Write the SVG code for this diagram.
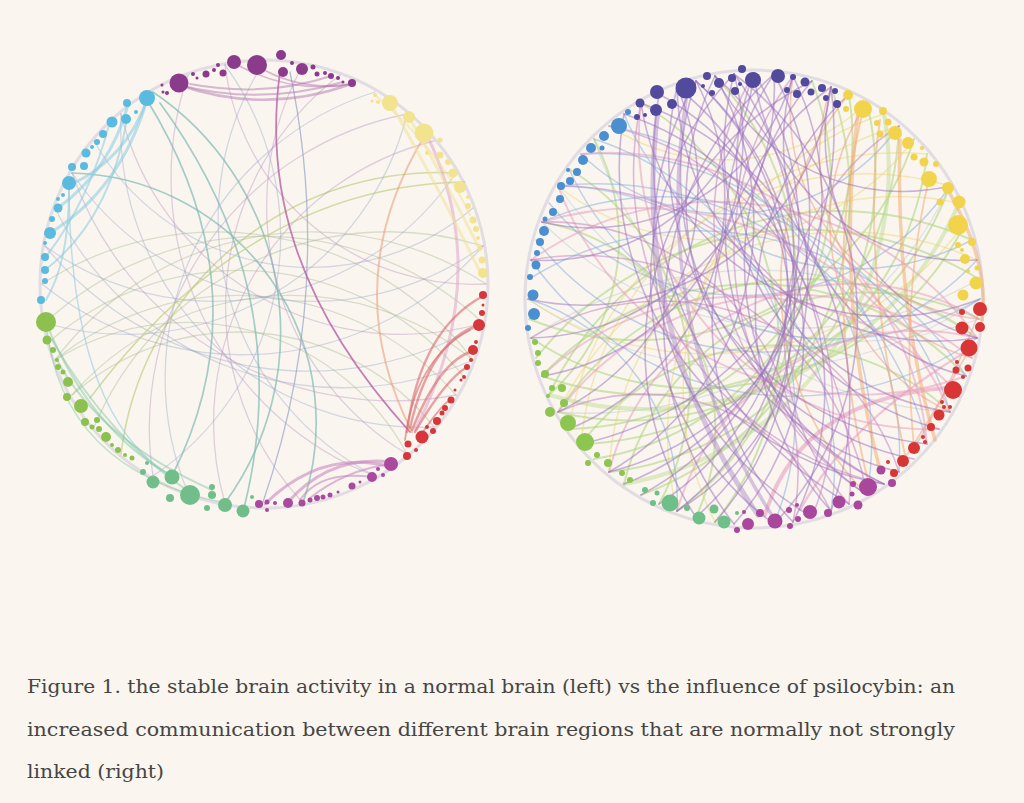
<svg xmlns="http://www.w3.org/2000/svg" width="1024" height="803" viewBox="0 0 1024 803">
<style>
.e{fill:none;stroke-linecap:round}
.lq{stroke:#95a3c6;stroke-opacity:.38;stroke-width:1.3}
.lp{stroke:#b48bba;stroke-opacity:.38;stroke-width:1.3}
.lg{stroke:#a3b48e;stroke-opacity:.38;stroke-width:1.3}
.lo{stroke:#c3cf85;stroke-opacity:.7;stroke-width:1.6}
.lt{stroke:#7fbab3;stroke-opacity:.7;stroke-width:1.7}
.lb{stroke:#8ccbe0;stroke-opacity:.55;stroke-width:3}
.lr{stroke:#d8696a;stroke-opacity:.6;stroke-width:2.4}
.lm{stroke:#c98bc0;stroke-opacity:.6;stroke-width:3}
.lu{stroke:#b377b0;stroke-opacity:.5;stroke-width:2.5}
.ly{stroke:#f0e29a;stroke-opacity:.55;stroke-width:3}
.lgb{stroke:#7fc3a0;stroke-opacity:.45;stroke-width:2}
.rp{stroke:#9a6dbd;stroke-opacity:.5;stroke-width:1.6}
.rpt{stroke:#b08ecb;stroke-opacity:.5;stroke-width:5}
.rb{stroke:#8fb3de;stroke-opacity:.55;stroke-width:1.5}
.rg{stroke:#b3d585;stroke-opacity:.6;stroke-width:2}
.rgt{stroke:#bddb94;stroke-opacity:.5;stroke-width:4}
.ro{stroke:#f0ad75;stroke-opacity:.55;stroke-width:3.5}
.ry{stroke:#eed36a;stroke-opacity:.45;stroke-width:1.5}
.rk{stroke:#e8a0bf;stroke-opacity:.55;stroke-width:2}
.rkt{stroke:#e79ec0;stroke-opacity:.6;stroke-width:4}
.rs{stroke:#ec9a8e;stroke-opacity:.5;stroke-width:1.6}
.rm{stroke:#c686c2;stroke-opacity:.55;stroke-width:1.6}
.rq{stroke:#a9b9cf;stroke-opacity:.35;stroke-width:1.3}
.ring{fill:none;stroke:#c9c3d6;stroke-opacity:.5;stroke-width:3}
.Lpu{fill:#8b3a8c}.Lbl{fill:#5bbadf}.Lgr{fill:#8dc14f}.Lte{fill:#72be8a}.Lma{fill:#a94a9e}.Lre{fill:#d6373a}.Lye{fill:#f2e38e}
.Rdb{fill:#514a9d}.Rbl{fill:#4a8fd0}.Rgr{fill:#8cc54f}.Rte{fill:#6fbf88}.Rma{fill:#a9479c}.Rre{fill:#d83535}.Rye{fill:#f1d44c}
.cap{font-family:"DejaVu Serif Condensed","DejaVu Serif","Liberation Serif",serif;font-size:19px;fill:#454545}
</style>
<rect x="0" y="0" width="1024" height="803" fill="#faf6ef"/>

<!-- LEFT NETWORK -->
<g id="left-connectors" class="e">
<circle class="ring" cx="264" cy="284" r="224"/>
<path class="lq" d="M55 208 A320 320 0 0 0 473 360"/>
<path class="lp" d="M72 173 A340 340 0 0 0 456 395"/>
<path class="lq" d="M121 114 A300 300 0 0 0 434 427"/>
<path class="lp" d="M188 75 A320 320 0 0 0 375 476"/>
<path class="lq" d="M45 246 A340 340 0 0 0 483 323"/>
<path class="lg" d="M483 323 A320 320 0 0 0 45 323"/>
<path class="lg" d="M473 360 A290 290 0 0 0 72 395"/>
<path class="lg" d="M483 246 A320 320 0 0 0 94 427"/>
<path class="lg" d="M456 395 A290 290 0 0 0 55 360"/>
<path class="lo" d="M456 173 A320 320 0 0 0 121 454"/>
<path class="lq" d="M375 92 A300 300 0 0 0 188 493"/>
<path class="lp" d="M340 75 A290 290 0 0 0 303 503"/>
<path class="lt" d="M225 503 A290 290 0 0 0 153 92"/>
<path class="lq" d="M94 141 A250 250 0 0 0 473 208"/>
<path class="lp" d="M225 65 A250 250 0 0 0 486 284"/>
<path class="lp" d="M303 65 A290 290 0 0 0 407 454"/>
<path class="lq" d="M42 284 A320 320 0 0 0 483 246"/>
<path class="lg" d="M486 284 A320 320 0 0 0 55 360"/>
<path class="lq" d="M45 246 A290 290 0 0 0 456 173"/>
<path class="lt" d="M303 503 A250 250 0 0 0 72 173"/>
<path class="lg" d="M434 427 A250 250 0 0 0 72 395"/>
<path class="lq" d="M153 476 A290 290 0 0 0 225 65"/>
<path class="lp" d="M407 114 A320 320 0 0 0 153 476"/>
<path class="lg" d="M465 378 A290 290 0 0 0 50 341"/>
<path class="lq" d="M45 323 A290 290 0 0 0 407 114"/>
<path class="lp" d="M121 114 A290 290 0 0 0 483 323"/>
<path class="lq" d="M264 62 A290 290 0 0 0 375 476"/>
<path class="lg" d="M407 454 A250 250 0 0 0 55 360"/>
<path class="lq" d="M72 173 A290 290 0 0 0 483 246"/>
<path class="lp" d="M434 141 A290 290 0 0 0 225 503"/>
<path class="lg" d="M473 360 A320 320 0 0 0 42 284"/>
<path class="lo" d="M465 182 Q250 185 90 398"/>
<path class="lt" d="M147 100 Q265 292 172 476"/>
<path class="lt" d="M160 103 Q298 292 244 508"/>
<path class="lq" style="stroke-opacity:.7" d="M290 72 Q336 292 262 505"/>
<path class="lp" style="stroke:#b0589f;stroke-opacity:.75;stroke-width:1.8" d="M280 72 C265 180 290 300 410 432"/>
<path class="lr" style="stroke:#eba27f;stroke-width:2" d="M425 135 Q336 282 412 432"/>
<path class="lm" style="stroke:#e3aacb;stroke-width:3" d="M428 137 Q494 277 415 430"/>
<path class="ly" d="M391 104 Q445 200 482 276"/>
<path class="ly" d="M409 117 Q450 190 480 250"/>
<path class="ly" style="stroke-width:2" d="M375 95 Q440 150 470 215"/>
<path class="lu" d="M179 85 Q265 115 351 84"/>
<path class="lu" style="stroke-width:2" d="M179 85 Q260 106 343 82"/>
<path class="lu" style="stroke-width:2" d="M190 84 Q265 98 331 76"/>
<path class="lu" style="stroke-width:2" d="M257 66 Q300 92 351 84"/>
<path class="lu" style="stroke-width:1.5" d="M234 63 Q290 95 352 84"/>
<path class="lb" d="M147 100 Q125 160 70 185"/>
<path class="lb" d="M128 105 Q110 170 58 208"/>
<path class="lb" d="M147 100 Q120 190 50 233"/>
<path class="lb" style="stroke-width:2" d="M110 121 Q90 200 45 258"/>
<path class="lb" style="stroke-width:2" d="M127 119 Q110 220 45 270"/>
<path class="lb" style="stroke-width:2" d="M69 183 Q70 260 46 300"/>
<path class="lb" style="stroke-width:1.5" d="M69 185 Q70 420 175 478"/>
<path class="lgb" d="M47 325 Q90 430 172 476"/>
<path class="lgb" d="M52 340 Q110 440 191 493"/>
<path class="lgb" d="M57 360 Q100 440 212 490"/>
<path class="lgb" style="stroke-width:1.5" d="M46 322 Q60 470 225 503"/>
<path class="lr" d="M407 432 Q420 330 483 296"/>
<path class="lr" d="M410 428 Q430 340 479 325"/>
<path class="lr" d="M412 430 Q440 360 473 351"/>
<path class="lr" d="M415 432 Q445 380 467 367"/>
<path class="lr" style="stroke-width:1.8" d="M420 436 Q445 400 451 400"/>
<path class="lr" style="stroke-width:1.8" d="M405 440 Q415 360 470 330"/>
<path class="lm" d="M391 462 Q330 455 288 502"/>
<path class="lm" d="M388 466 Q320 450 265 504"/>
<path class="lm" style="stroke-width:2" d="M372 477 Q320 470 300 500"/>
<path class="lm" style="stroke-width:2" d="M391 464 Q345 470 310 498"/>
</g>

<g id="left-purple" class="Lpu">
<circle cx="179" cy="83" r="9.5"/><circle cx="257" cy="65" r="10"/><circle cx="234" cy="62" r="7"/><circle cx="281" cy="55" r="5"/><circle cx="283" cy="72" r="5"/><circle cx="302" cy="69" r="6"/><circle cx="352" cy="83" r="4"/>
<circle cx="193" cy="74" r="2"/><circle cx="197" cy="78" r="1.5"/><circle cx="206" cy="74" r="3.5"/><circle cx="214" cy="70" r="2"/><circle cx="223" cy="73" r="3.5"/><circle cx="218" cy="65" r="2"/>
<circle cx="292" cy="63" r="2"/><circle cx="313" cy="67" r="2.5"/><circle cx="317" cy="74" r="2.5"/><circle cx="325" cy="73" r="2"/><circle cx="331" cy="76" r="3"/><circle cx="338" cy="78" r="2"/><circle cx="343" cy="82" r="1.5"/>
<circle cx="162" cy="85" r="1.5"/><circle cx="163" cy="92" r="1.5"/><circle cx="167" cy="93" r="2"/>
</g>
<g id="left-blue" class="Lbl">
<circle cx="147" cy="98" r="8"/><circle cx="127" cy="103" r="4"/><circle cx="112" cy="122" r="5.5"/><circle cx="126" cy="119" r="5"/><circle cx="103" cy="134" r="4"/><circle cx="97" cy="142" r="3"/><circle cx="92" cy="147" r="2"/><circle cx="86" cy="153" r="4.5"/><circle cx="84" cy="166" r="4"/><circle cx="72" cy="167" r="4"/><circle cx="69" cy="183" r="7"/><circle cx="63" cy="195" r="2"/><circle cx="58" cy="199" r="2"/><circle cx="58" cy="208" r="4.5"/><circle cx="52" cy="219" r="3"/><circle cx="50" cy="233" r="6"/><circle cx="45" cy="243" r="2"/><circle cx="45" cy="257" r="4"/><circle cx="45" cy="270" r="4"/><circle cx="45" cy="281" r="3"/><circle cx="41" cy="300" r="4"/><circle cx="136" cy="112" r="2"/>
</g>
<g id="left-green" class="Lgr">
<circle cx="46" cy="322" r="10"/><circle cx="47" cy="340" r="4.5"/><circle cx="53" cy="350" r="3"/><circle cx="57" cy="360" r="2"/><circle cx="58" cy="367" r="3"/><circle cx="63" cy="372" r="2.5"/><circle cx="68" cy="382" r="5"/><circle cx="67" cy="397" r="4"/><circle cx="81" cy="406" r="7"/><circle cx="85" cy="422" r="4"/><circle cx="92" cy="427" r="2.5"/><circle cx="97" cy="420" r="3"/><circle cx="99" cy="429" r="3"/><circle cx="106" cy="437" r="5"/><circle cx="112" cy="445" r="2"/><circle cx="118" cy="450" r="3"/><circle cx="125" cy="455" r="2"/><circle cx="132" cy="458" r="2.5"/>
</g>
<g id="left-teal" class="Lte">
<circle cx="147" cy="463" r="2"/><circle cx="143" cy="472" r="3"/><circle cx="153" cy="482" r="6.5"/><circle cx="172" cy="477" r="7.5"/><circle cx="190" cy="495" r="10"/><circle cx="170" cy="498" r="4"/><circle cx="212" cy="487" r="3"/><circle cx="212" cy="495" r="4"/><circle cx="207" cy="508" r="3"/><circle cx="225" cy="505" r="7"/><circle cx="243" cy="511" r="6.5"/><circle cx="252" cy="497" r="2"/>
</g>
<g id="left-magenta" class="Lma">
<circle cx="259" cy="504" r="4"/><circle cx="267" cy="502" r="2.5"/><circle cx="275" cy="503" r="2"/><circle cx="267" cy="510" r="2"/><circle cx="288" cy="503" r="5"/><circle cx="302" cy="503" r="3.5"/><circle cx="310" cy="500" r="2.5"/><circle cx="317" cy="498" r="3"/><circle cx="323" cy="497" r="2.5"/><circle cx="330" cy="495" r="2.5"/><circle cx="338" cy="492" r="1.5"/><circle cx="352" cy="486" r="3.5"/><circle cx="360" cy="482" r="1.5"/><circle cx="372" cy="477" r="5"/><circle cx="378" cy="469" r="2"/><circle cx="383" cy="475" r="2"/><circle cx="391" cy="464" r="7"/>
</g>
<g id="left-red" class="Lre">
<circle cx="483" cy="295" r="4"/><circle cx="483" cy="305" r="1.5"/><circle cx="482" cy="313" r="3"/><circle cx="479" cy="325" r="6"/><circle cx="476" cy="342" r="2"/><circle cx="473" cy="350" r="5"/><circle cx="471" cy="360" r="2"/><circle cx="467" cy="367" r="3"/><circle cx="464" cy="377" r="2"/><circle cx="461" cy="380" r="1.5"/><circle cx="455" cy="390" r="1.5"/><circle cx="451" cy="400" r="3.5"/><circle cx="445" cy="408" r="3"/><circle cx="442" cy="413" r="2.5"/><circle cx="437" cy="421" r="4"/><circle cx="433" cy="431" r="3"/><circle cx="422" cy="437" r="6.5"/><circle cx="427" cy="427" r="2"/><circle cx="408" cy="444" r="3.5"/><circle cx="416" cy="450" r="2"/><circle cx="407" cy="456" r="4"/>
</g>
<g id="left-yellow" class="Lye">
<circle cx="390" cy="103" r="8"/><circle cx="409" cy="117" r="6"/><circle cx="424" cy="133" r="9.5"/><circle cx="440" cy="140" r="2.5"/><circle cx="427" cy="153" r="2"/><circle cx="440" cy="155" r="3.5"/><circle cx="448" cy="162" r="3"/><circle cx="453" cy="173" r="4.5"/><circle cx="460" cy="187" r="6"/><circle cx="468" cy="197" r="2"/><circle cx="468" cy="206" r="3"/><circle cx="473" cy="220" r="3.5"/><circle cx="476" cy="229" r="3"/><circle cx="478" cy="238" r="2"/><circle cx="480" cy="248" r="2.5"/><circle cx="482" cy="260" r="3.5"/><circle cx="483" cy="273" r="5"/><circle cx="375" cy="95" r="2"/><circle cx="378" cy="102" r="2"/><circle cx="372" cy="101" r="1.5"/>
</g>

<!-- RIGHT NETWORK -->
<g id="right-connectors" class="e">
<circle class="ring" cx="754" cy="299" r="229"/>
<path class="rq" d="M977 338 A400 400 0 0 0 531 338"/>
<path class="rq" d="M528 299 A400 400 0 0 0 980 299"/>
<path class="rq" d="M542 222 A360 360 0 0 0 979 279"/>
<path class="rq" d="M558 412 A400 400 0 0 0 950 186"/>
<path class="rq" d="M558 186 A360 360 0 0 0 979 319"/>
<path class="rq" d="M594 139 A400 400 0 0 0 950 412"/>
<path class="rg" d="M542 376 A320 320 0 0 0 950 186"/>
<path class="rg" d="M558 412 A300 300 0 0 0 927 154"/>
<path class="rg" d="M581 444 A330 330 0 0 0 899 126"/>
<path class="rg" d="M609 472 A300 300 0 0 0 867 103"/>
<path class="rg" d="M972 240 A320 320 0 0 0 549 395"/>
<path class="rg" d="M979 279 A340 340 0 0 0 536 358"/>
<path class="rg" d="M531 338 A300 300 0 0 0 966 222"/>
<path class="rg" d="M569 429 A290 290 0 0 0 849 94"/>
<path class="rg" d="M594 459 A280 280 0 0 0 812 81"/>
<path class="rg" d="M641 495 A320 320 0 0 0 831 87"/>
<path class="rg" d="M677 511 A290 290 0 0 0 715 76"/>
<path class="rg" d="M715 522 A280 280 0 0 0 641 103"/>
<path class="rg" d="M979 319 A250 250 0 0 0 624 484"/>
<path class="rg" d="M966 376 A290 290 0 0 0 542 376"/>
<path class="rg" d="M977 338 A290 290 0 0 0 558 412"/>
<path class="rg" d="M950 412 A250 250 0 0 0 581 444"/>
<path class="rg" d="M529 319 A290 290 0 0 0 914 139"/>
<path class="rg" d="M549 395 A210 210 0 0 0 594 139"/>
<path class="rg" d="M659 504 A250 250 0 0 0 569 169"/>
<path class="rg" d="M696 517 A210 210 0 0 0 542 222"/>
<path class="rgt" d="M549 395 A340 340 0 0 0 959 203"/>
<path class="rgt" d="M624 484 A320 320 0 0 0 884 114"/>
<path class="ry" d="M899 126 A320 320 0 0 0 677 511"/>
<path class="ry" d="M927 154 A320 320 0 0 0 581 444"/>
<path class="ry" d="M950 186 A300 300 0 0 0 569 429"/>
<path class="ry" d="M528 299 A320 320 0 0 0 966 222"/>
<path class="ry" d="M959 203 A290 290 0 0 0 609 472"/>
<path class="ry" d="M977 260 A320 320 0 0 0 558 412"/>
<path class="ry" d="M884 114 A290 290 0 0 0 715 522"/>
<path class="ry" d="M558 186 A250 250 0 0 0 914 139"/>
<path class="ry" d="M609 126 A210 210 0 0 0 867 103"/>
<path class="rb" d="M531 260 A320 320 0 0 0 977 338"/>
<path class="rb" d="M950 412 A300 300 0 0 0 542 222"/>
<path class="rb" d="M927 444 A340 340 0 0 0 558 186"/>
<path class="rb" d="M899 472 A300 300 0 0 0 581 154"/>
<path class="rb" d="M867 495 A320 320 0 0 0 609 126"/>
<path class="rb" d="M536 240 A290 290 0 0 0 977 260"/>
<path class="rb" d="M549 203 A250 250 0 0 0 950 186"/>
<path class="rb" d="M569 169 A290 290 0 0 0 980 299"/>
<path class="rb" d="M966 376 A320 320 0 0 0 529 279"/>
<path class="rb" d="M774 524 A290 290 0 0 0 594 139"/>
<path class="rb" d="M831 511 A280 280 0 0 0 558 186"/>
<path class="rb" d="M677 511 A210 210 0 0 0 528 299"/>
<path class="rb" d="M581 154 A210 210 0 0 0 899 126"/>
<path class="rb" d="M624 114 A250 250 0 0 0 972 240"/>
<path class="ro" d="M858 112 Q835 300 880 470"/>
<path class="ro" d="M900 140 Q895 300 935 440"/>
<path class="ro" style="stroke-width:2" d="M880 120 Q860 250 905 455"/>
<path class="ro" style="stroke-width:2" d="M863 110 Q820 290 869 485"/>
<path class="ro" d="M945 185 Q990 260 982 320"/>
<path class="ro" style="stroke-width:1.8" d="M849 94 A300 300 0 0 0 867 495"/>
<path class="ro" style="stroke-width:1.8" d="M929 179 Q900 300 914 448"/>
<path class="rk" d="M979 319 A250 250 0 0 0 609 472"/>
<path class="rk" d="M972 358 A290 290 0 0 0 558 412"/>
<path class="rk" d="M959 395 A290 290 0 0 0 542 376"/>
<path class="rk" d="M977 338 A320 320 0 0 0 531 260"/>
<path class="rk" d="M950 412 A340 340 0 0 0 542 222"/>
<path class="rk" d="M558 186 A320 320 0 0 0 966 376"/>
<path class="rk" d="M927 444 A320 320 0 0 0 581 154"/>
<path class="rk" d="M977 338 A250 250 0 0 0 677 511"/>
<path class="rk" d="M641 103 A290 290 0 0 0 939 429"/>
<path class="rs" d="M793 76 A210 210 0 0 0 979 319"/>
<path class="rs" d="M831 87 A210 210 0 0 0 972 358"/>
<path class="rs" d="M867 103 A210 210 0 0 0 950 412"/>
<path class="rs" d="M969 350 Q930 420 903 461"/>
<path class="rs" d="M980 310 Q945 400 914 448"/>
<path class="rkt" d="M945 388 Q800 400 765 515"/>
<path class="rk" style="stroke-width:2.5" d="M969 350 Q850 420 800 510"/>
<path class="rm" d="M641 103 A320 320 0 0 0 884 484"/>
<path class="rm" d="M849 504 A290 290 0 0 0 558 186"/>
<path class="rm" d="M812 517 A290 290 0 0 0 609 126"/>
<path class="rm" d="M867 495 A290 290 0 0 0 531 260"/>
<path class="rm" d="M899 472 A250 250 0 0 0 531 338"/>
<path class="rm" d="M831 511 A210 210 0 0 0 558 412"/>
<path class="rm" d="M793 522 A250 250 0 0 0 542 222"/>
<path class="rm" d="M793 76 A290 290 0 0 0 867 495"/>
<path class="rm" d="M754 73 A290 290 0 0 0 884 484"/>
<path class="rm" d="M899 126 A250 250 0 0 0 849 504"/>
<path class="rpt" d="M658 110 Q630 330 758 515"/>
<path class="rpt" style="stroke-width:3.5" d="M686 100 Q650 330 775 520"/>
<path class="rp" d="M696 81 A320 320 0 0 0 812 517"/>
<path class="rp" d="M659 94 A400 400 0 0 0 849 504"/>
<path class="rp" d="M734 74 A300 300 0 0 0 774 524"/>
<path class="rp" d="M774 74 A330 330 0 0 0 734 524"/>
<path class="rp" d="M812 81 A300 300 0 0 0 696 517"/>
<path class="rp" d="M624 114 A320 320 0 0 0 884 484"/>
<path class="rp" d="M677 87 A290 290 0 0 0 927 444"/>
<path class="rp" d="M715 76 A280 280 0 0 0 899 472"/>
<path class="rp" d="M754 73 A250 250 0 0 0 950 412"/>
<path class="rp" d="M793 76 A240 240 0 0 0 966 376"/>
<path class="rp" d="M831 87 A210 210 0 0 0 977 338"/>
<path class="rp" d="M696 517 A290 290 0 0 0 696 81"/>
<path class="rp" d="M677 511 A270 270 0 0 0 715 76"/>
<path class="rp" d="M641 495 A300 300 0 0 0 754 73"/>
<path class="rp" d="M609 472 A280 280 0 0 0 793 76"/>
<path class="rp" d="M581 444 A320 320 0 0 0 831 87"/>
<path class="rp" d="M734 524 A280 280 0 0 0 659 94"/>
<path class="rp" d="M774 524 A300 300 0 0 0 734 74"/>
<path class="rp" d="M558 412 A250 250 0 0 0 677 87"/>
<path class="rp" d="M542 376 A240 240 0 0 0 734 74"/>
<path class="rp" d="M531 338 A250 250 0 0 0 774 74"/>
<path class="rp" d="M641 103 A250 250 0 0 0 980 299"/>
<path class="rp" d="M677 87 A260 260 0 0 0 977 338"/>
<path class="rp" d="M754 73 A210 210 0 0 0 977 260"/>
<path class="rp" d="M715 76 A210 210 0 0 0 950 186"/>
<path class="rp" d="M793 522 A290 290 0 0 0 624 114"/>
<path class="rp" d="M831 511 A320 320 0 0 0 641 103"/>
<path class="rp" d="M812 81 A280 280 0 0 0 867 495"/>
<path class="rp" d="M849 94 A300 300 0 0 0 831 511"/>
<path class="rp" d="M677 511 A280 280 0 0 0 696 81"/>
<path class="rp" d="M659 504 A300 300 0 0 0 734 74"/>
<path class="rp" d="M528 299 A250 250 0 0 0 831 87"/>
<path class="rp" d="M531 260 A210 210 0 0 0 754 73"/>
<path class="rp" d="M542 222 A210 210 0 0 0 793 76"/>
<path class="rp" d="M624 484 A290 290 0 0 0 774 74"/>
<path class="rp" d="M696 81 A290 290 0 0 0 914 459"/>
<path class="rp" d="M774 74 A280 280 0 0 0 884 484"/>
<path class="rp" d="M715 522 A300 300 0 0 0 677 87"/>
<path class="rp" d="M609 472 A290 290 0 0 0 715 76"/>
<path class="rp" d="M569 429 A250 250 0 0 0 696 81"/>
<path class="rp" d="M831 87 A290 290 0 0 0 793 522"/>
<path class="rp" d="M734 74 A290 290 0 0 0 939 429"/>
</g>

<g id="right-darkblue" class="Rdb">
<circle cx="657" cy="92" r="7"/><circle cx="686" cy="88" r="10.5"/><circle cx="672" cy="104" r="5"/><circle cx="656" cy="110" r="6"/><circle cx="640" cy="103" r="4.5"/><circle cx="637" cy="117" r="3"/><circle cx="645" cy="115" r="2"/><circle cx="707" cy="76" r="4"/><circle cx="703" cy="86" r="2"/><circle cx="712" cy="93" r="3"/><circle cx="719" cy="83" r="5"/><circle cx="732" cy="78" r="4"/><circle cx="735" cy="91" r="4"/><circle cx="742" cy="69" r="4"/><circle cx="753" cy="80" r="8"/><circle cx="740" cy="84" r="2"/><circle cx="778" cy="76" r="7"/><circle cx="793" cy="77" r="3"/><circle cx="805" cy="82" r="4.5"/><circle cx="787" cy="90" r="3"/><circle cx="797" cy="94" r="4"/><circle cx="811" cy="92" r="3.5"/><circle cx="822" cy="88" r="4"/><circle cx="826" cy="98" r="3"/><circle cx="835" cy="91" r="3"/><circle cx="837" cy="104" r="4"/>
</g>
<g id="right-blue" class="Rbl">
<circle cx="619" cy="126" r="8"/><circle cx="628" cy="112" r="3"/><circle cx="604" cy="136" r="5"/><circle cx="602" cy="148" r="2.5"/><circle cx="591" cy="148" r="5"/><circle cx="583" cy="160" r="5"/><circle cx="577" cy="172" r="4"/><circle cx="570" cy="181" r="4"/><circle cx="568" cy="170" r="2"/><circle cx="561" cy="186" r="4"/><circle cx="560" cy="199" r="4"/><circle cx="553" cy="212" r="4"/><circle cx="545" cy="219" r="2.5"/><circle cx="544" cy="231" r="5"/><circle cx="540" cy="242" r="4"/><circle cx="537" cy="253" r="3"/><circle cx="536" cy="265" r="4.5"/><circle cx="530" cy="277" r="3"/><circle cx="533" cy="295" r="5.5"/><circle cx="534" cy="314" r="6"/><circle cx="528" cy="328" r="3"/>
</g>
<g id="right-green" class="Rgr">
<circle cx="535" cy="342" r="3"/><circle cx="538" cy="353" r="3"/><circle cx="538" cy="363" r="3"/><circle cx="545" cy="374" r="4"/><circle cx="552" cy="388" r="3"/><circle cx="562" cy="388" r="4"/><circle cx="564" cy="403" r="4"/><circle cx="550" cy="412" r="5"/><circle cx="568" cy="423" r="8"/><circle cx="585" cy="442" r="9"/><circle cx="588" cy="463" r="3"/><circle cx="597" cy="455" r="3"/><circle cx="608" cy="463" r="4"/><circle cx="622" cy="473" r="3"/><circle cx="630" cy="480" r="3"/><circle cx="548" cy="396" r="2"/>
</g>
<g id="right-teal" class="Rte">
<circle cx="645" cy="490" r="3"/><circle cx="653" cy="503" r="3"/><circle cx="657" cy="493" r="2.5"/><circle cx="670" cy="503" r="8.5"/><circle cx="687" cy="508" r="3"/><circle cx="699" cy="518" r="6.5"/><circle cx="714" cy="509" r="4.5"/><circle cx="724" cy="522" r="6.5"/><circle cx="737" cy="513" r="2"/>
</g>
<g id="right-magenta" class="Rma">
<circle cx="737" cy="530" r="3"/><circle cx="748" cy="524" r="6"/><circle cx="744" cy="512" r="2"/><circle cx="760" cy="513" r="4"/><circle cx="775" cy="521" r="7.5"/><circle cx="790" cy="526" r="3"/><circle cx="789" cy="510" r="3"/><circle cx="797" cy="505" r="2"/><circle cx="798" cy="519" r="3"/><circle cx="810" cy="512" r="7"/><circle cx="828" cy="513" r="4"/><circle cx="839" cy="502" r="6.5"/><circle cx="858" cy="505" r="4.5"/><circle cx="853" cy="484" r="3"/><circle cx="852" cy="494" r="2.5"/><circle cx="868" cy="487" r="9"/><circle cx="881" cy="470" r="4.5"/><circle cx="892" cy="483" r="4"/>
</g>
<g id="right-red" class="Rre">
<circle cx="980" cy="309" r="7"/><circle cx="962" cy="312" r="3"/><circle cx="962" cy="328" r="6.5"/><circle cx="980" cy="327" r="5"/><circle cx="969" cy="348" r="8.5"/><circle cx="957" cy="362" r="2"/><circle cx="956" cy="370" r="3.5"/><circle cx="968" cy="368" r="3.5"/><circle cx="963" cy="377" r="2"/><circle cx="953" cy="390" r="9"/><circle cx="942" cy="402" r="2"/><circle cx="944" cy="407" r="2"/><circle cx="950" cy="407" r="2"/><circle cx="939" cy="415" r="5.5"/><circle cx="931" cy="427" r="4"/><circle cx="923" cy="437" r="2"/><circle cx="925" cy="442" r="2"/><circle cx="914" cy="448" r="6"/><circle cx="903" cy="461" r="6"/><circle cx="894" cy="473" r="4"/><circle cx="888" cy="462" r="2"/>
</g>
<g id="right-yellow" class="Rye">
<circle cx="848" cy="95" r="5"/><circle cx="846" cy="109" r="3"/><circle cx="863" cy="109" r="9"/><circle cx="883" cy="111" r="4"/><circle cx="877" cy="123" r="3"/><circle cx="888" cy="122" r="3.5"/><circle cx="880" cy="134" r="3.5"/><circle cx="895" cy="133" r="7"/><circle cx="908" cy="143" r="6"/><circle cx="914" cy="157" r="3.5"/><circle cx="922" cy="148" r="2"/><circle cx="924" cy="162" r="4.5"/><circle cx="936" cy="164" r="3"/><circle cx="929" cy="179" r="8"/><circle cx="948" cy="188" r="6"/><circle cx="959" cy="202" r="6.5"/><circle cx="940" cy="202" r="3.5"/><circle cx="958" cy="225" r="10"/><circle cx="972" cy="242" r="4"/><circle cx="958" cy="245" r="3"/><circle cx="965" cy="259" r="5"/><circle cx="977" cy="268" r="2.5"/><circle cx="968" cy="271" r="2"/><circle cx="976" cy="283" r="6.5"/><circle cx="963" cy="295" r="5.5"/><circle cx="962" cy="250" r="2"/>
</g>

<g id="caption">
<text class="cap" x="27" y="693" textLength="928" lengthAdjust="spacingAndGlyphs">Figure 1. the stable brain activity in a normal brain (left) vs the influence of psilocybin: an</text>
<text class="cap" x="27" y="736" textLength="928" lengthAdjust="spacingAndGlyphs">increased communication between different brain regions that are normally not strongly</text>
<text class="cap" x="27" y="778" textLength="137" lengthAdjust="spacingAndGlyphs">linked (right)</text>
</g>
</svg>
